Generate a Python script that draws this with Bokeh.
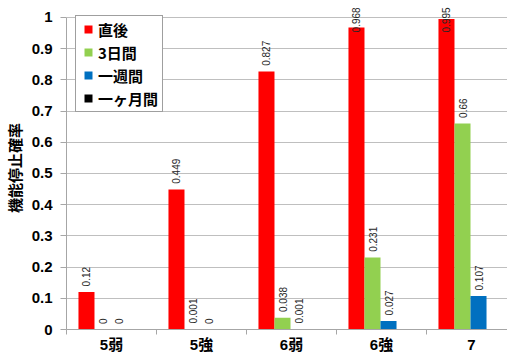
import numpy as np
from bokeh.plotting import figure
from bokeh.models import ColumnDataSource, FixedTicker, Range1d, Legend, LegendItem
from bokeh.transform import dodge
from bokeh.embed import file_html
from bokeh.resources import INLINE
from bokeh.core.properties import value

# ---- data ----
categories = ["5弱", "5強", "6弱", "6強", "7"]
series_names = ["直後", "3日間", "一週間", "一ヶ月間"]
chokugo = [0.12, 0.449, 0.827, 0.968, 0.995]
mikka = [0, 0.001, 0.038, 0.231, 0.66]
isshukan = [0, 0, 0.001, 0.027, 0.107]
ikkagetsu = [float("nan")] * 5  # no data shown
y_ticks = [0, 0.1, 0.2, 0.3, 0.4, 0.5, 0.6, 0.7, 0.8, 0.9, 1.0]
y_tick_labels = ["0", "0.1", "0.2", "0.3", "0.4", "0.5", "0.6", "0.7", "0.8", "0.9", "1"]
y_label = "機能停止確率"

colors = ["#FF0000", "#92D050", "#0070C0", "#000000"]
series = [chokugo, mikka, isshukan, ikkagetsu]

xc = [i + 0.5 for i in range(len(categories))]
data = {"x": xc}
for k, s in enumerate(series):
    arr = np.array(s, dtype=float)
    data[f"s{k}"] = arr
    data[f"ly{k}"] = np.minimum(arr + 0.018, 0.952)
    data[f"lab{k}"] = [("" if np.isnan(v) else f"{v:g}") for v in arr]
src = ColumnDataSource(data)

p = figure(width=507, height=355, output_backend="svg", toolbar_location=None,
           x_range=Range1d(0, 4.9), y_range=Range1d(0, 1.035),
           min_border_left=66, min_border_right=0, min_border_top=6, min_border_bottom=26)
p.outline_line_color = None
p.background_fill_color = "white"
p.border_fill_color = "white"

bw = 0.178
offsets = [-1.5 * bw - 0.011, -0.5 * bw - 0.011, 0.5 * bw - 0.011, 1.5 * bw - 0.011]

for k in range(4):
    p.vbar(x=dodge("x", offsets[k], range=p.x_range), top=f"s{k}", width=bw,
           source=src, fill_color=colors[k], line_color=None)
    if k < 3:
        p.text(x=dodge("x", offsets[k], range=p.x_range), y=f"ly{k}", text=f"lab{k}",
               source=src, angle=np.pi / 2, text_align="left", text_baseline="middle",
               text_font=value("Liberation Sans"), text_font_size="10px", text_color="#262626")

# legend via square markers (no visible points)
leg_items = []
for k in range(4):
    r = p.scatter(x=[float("nan")], y=[float("nan")], marker="square", size=8,
                  fill_color=colors[k], line_color=None)
    leg_items.append(LegendItem(label=series_names[k], renderers=[r]))
legend = Legend(items=leg_items, location=(9, 217), orientation="vertical",
                glyph_width=20, glyph_height=20, label_standoff=0, label_height=22,
                label_width=62, spacing=1, padding=2, margin=0,
                label_text_font="Noto Sans CJK JP", label_text_font_style="bold",
                label_text_font_size="15px", label_text_color="black",
                border_line_color="#404040", border_line_width=1,
                background_fill_color="white", background_fill_alpha=1.0)
p.add_layout(legend, "center")

# x axis
p.xaxis.ticker = FixedTicker(ticks=xc, minor_ticks=[0, 1, 2, 3, 4, 5])
p.xaxis.major_label_overrides = {x: c for x, c in zip(xc, categories)}
p.xaxis.major_tick_out = 0
p.xaxis.major_tick_in = 0
p.xaxis.minor_tick_out = 5
p.xaxis.minor_tick_in = 0
p.xaxis.minor_tick_line_color = "#A6A6A6"
p.xaxis.axis_line_color = "#A6A6A6"
p.xaxis.major_label_standoff = 1
p.xaxis.major_label_text_font = "Liberation Sans, Noto Sans CJK JP"
p.xaxis.major_label_text_font_style = "bold"
p.xaxis.major_label_text_font_size = "15px"
p.xaxis.major_label_text_color = "black"
p.xgrid.visible = False

# y axis
p.yaxis.ticker = FixedTicker(ticks=y_ticks)
p.yaxis.major_label_overrides = {t: l for t, l in zip(y_ticks, y_tick_labels)}
p.yaxis.bounds = (0, 1)
p.yaxis.major_tick_out = 6
p.yaxis.major_tick_in = 0
p.yaxis.minor_tick_out = 0
p.yaxis.minor_tick_in = 0
p.yaxis.major_tick_line_color = "#A6A6A6"
p.yaxis.axis_line_color = "#A6A6A6"
p.yaxis.major_label_standoff = 8
p.yaxis.major_label_text_font = "Liberation Sans"
p.yaxis.major_label_text_font_style = "bold"
p.yaxis.major_label_text_font_size = "15px"
p.yaxis.major_label_text_color = "black"
p.yaxis.axis_label = y_label
p.yaxis.axis_label_text_font = "Noto Sans CJK JP"
p.yaxis.axis_label_text_font_style = "bold"
p.yaxis.axis_label_text_font_size = "15px"
p.yaxis.axis_label_text_color = "black"
p.yaxis.axis_label_standoff = 4
p.ygrid.grid_line_color = "#BFBFBF"

open("out.html", "w").write(file_html(p, INLINE))
